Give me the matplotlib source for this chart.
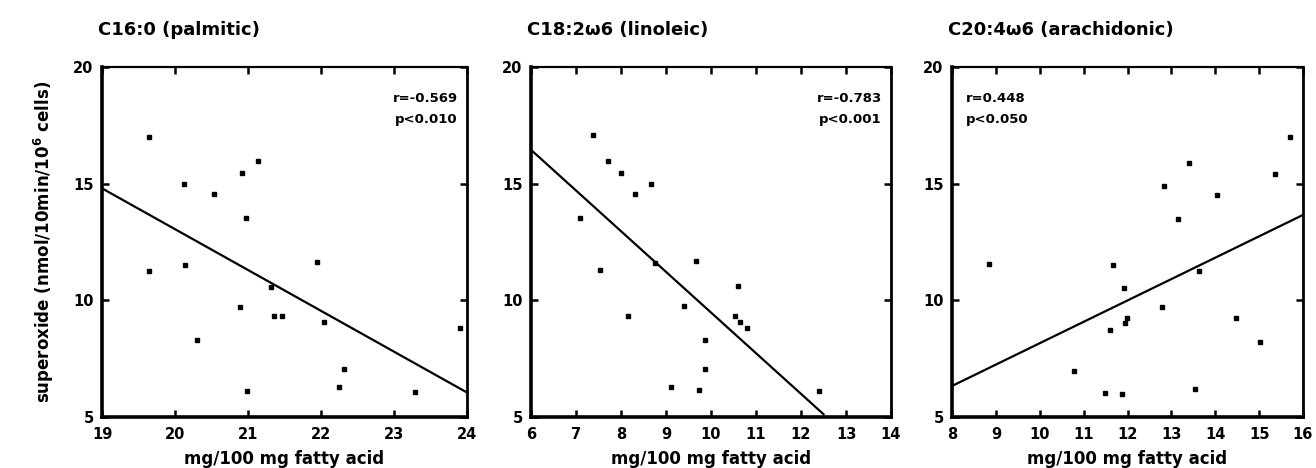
import matplotlib
matplotlib.use("Agg")
import matplotlib.pyplot as plt

# C16:0 (palmitic)
palm_x = [19.65, 20.13, 20.53, 20.92, 21.14, 20.97, 19.64, 20.14, 21.94, 21.31,
          20.89, 21.35, 21.47, 22.04, 20.30, 22.32, 22.24, 20.99, 23.29, 23.90]
palm_y = [17.0, 15.0, 14.56, 15.46, 15.97, 13.53, 11.26, 11.5, 11.63, 10.57,
          9.71, 9.33, 9.33, 9.07, 8.3, 7.06, 6.29, 6.1, 6.07, 8.81]
palm_fit_x = [19.0, 24.0]
palm_fit_y = [14.8, 6.05]

# C18:2w6 (linoleic)
lino_x = [7.38, 7.72, 7.99, 8.31, 8.66, 7.08, 7.54, 8.76, 9.66, 10.61,
          9.41, 8.15, 10.54, 10.65, 10.81, 9.87, 9.86, 9.11, 9.73, 12.40]
lino_y = [17.07, 15.96, 15.47, 14.56, 14.97, 13.54, 11.31, 11.59, 11.69, 10.6,
          9.76, 9.33, 9.33, 9.08, 8.83, 8.3, 7.07, 6.3, 6.16, 6.11]
lino_fit_x = [6.0, 12.5]
lino_fit_y = [16.45, 5.12]

# C20:4w6 (arachidonic)
arach_x = [8.85, 11.66, 11.93, 11.99, 11.94, 11.59, 10.77, 11.48, 11.88, 12.84,
           13.40, 13.16, 14.03, 15.37, 15.70, 12.78, 13.62, 14.48, 15.03, 13.54]
arach_y = [11.56, 11.51, 10.53, 9.23, 9.02, 8.73, 6.96, 6.04, 5.97, 14.91,
           15.9, 13.5, 14.5, 15.41, 17.01, 9.7, 11.27, 9.26, 8.23, 6.19]
arach_fit_x = [8.0, 16.0]
arach_fit_y = [6.33, 13.66]

titles = ["C16:0 (palmitic)", "C18:2ω6 (linoleic)", "C20:4ω6 (arachidonic)"]
stats = ["r=-0.569\np<0.010", "r=-0.783\np<0.001", "r=0.448\np<0.050"]
xlims = [(19, 24), (6, 14), (8, 16)]
xticks = [range(19, 25), range(6, 15), range(8, 17)]
yticks = [5, 10, 15, 20]

plt.rcParams["font.family"] = ["DejaVu Sans"]
plt.rcParams["font.weight"] = "bold"
plt.rcParams["mathtext.default"] = "regular"

W, H = 1316, 468
fig = plt.figure(figsize=(W / 100, H / 100), dpi=100)

# axes boxes in pixels: left, right
boxes = [(102, 467), (531, 891), (952, 1303)]
top_px, bot_px = 67, 417

panels = [
    (palm_x, palm_y, palm_fit_x, palm_fit_y),
    (lino_x, lino_y, lino_fit_x, lino_fit_y),
    (arach_x, arach_y, arach_fit_x, arach_fit_y),
]

for i, (xs, ys, fx, fy) in enumerate(panels):
    l, r = boxes[i]
    ax = fig.add_axes([l / W, 1 - bot_px / H, (r - l) / W, (bot_px - top_px) / H])
    ax.plot(xs, ys, "s", color="black", markersize=3.5)
    ax.plot(fx, fy, color="black", linewidth=1.6)
    ax.set_xlim(*xlims[i])
    ax.set_ylim(5, 20)
    ax.set_xticks(list(xticks[i]))
    ax.set_yticks(yticks)
    ax.tick_params(direction="in", length=5, width=1.8, top=True, right=True,
                   labelsize=10.5)
    ax.tick_params(axis="x", pad=7)
    ax.tick_params(axis="y", pad=6)
    for lab in ax.get_xticklabels() + ax.get_yticklabels():
        lab.set_fontweight("bold")
    ax.spines["left"].set_linewidth(2.6)
    ax.spines["bottom"].set_linewidth(2.6)
    ax.spines["right"].set_linewidth(2.0)
    ax.spines["top"].set_linewidth(1.6)
    ax.set_xlabel("mg/100 mg fatty acid", fontsize=12, fontweight="bold", labelpad=6)
    ax.text(-0.01, 1.08, titles[i], transform=ax.transAxes, fontsize=13,
            fontweight="bold", ha="left", va="bottom")
    if i == 2:
        ax.text(0.04, 0.93, stats[i], transform=ax.transAxes, fontsize=9.5,
                fontweight="bold", ha="left", va="top", linespacing=1.9)
    else:
        ax.text(0.975, 0.93, stats[i], transform=ax.transAxes, fontsize=9.5,
                fontweight="bold", ha="right", va="top", linespacing=1.9)
    if i == 0:
        ax.set_ylabel("superoxide (nmol/10min/10$^6$ cells)", fontsize=12,
                      fontweight="bold", labelpad=12)

fig.savefig("out.png", dpi=100)
